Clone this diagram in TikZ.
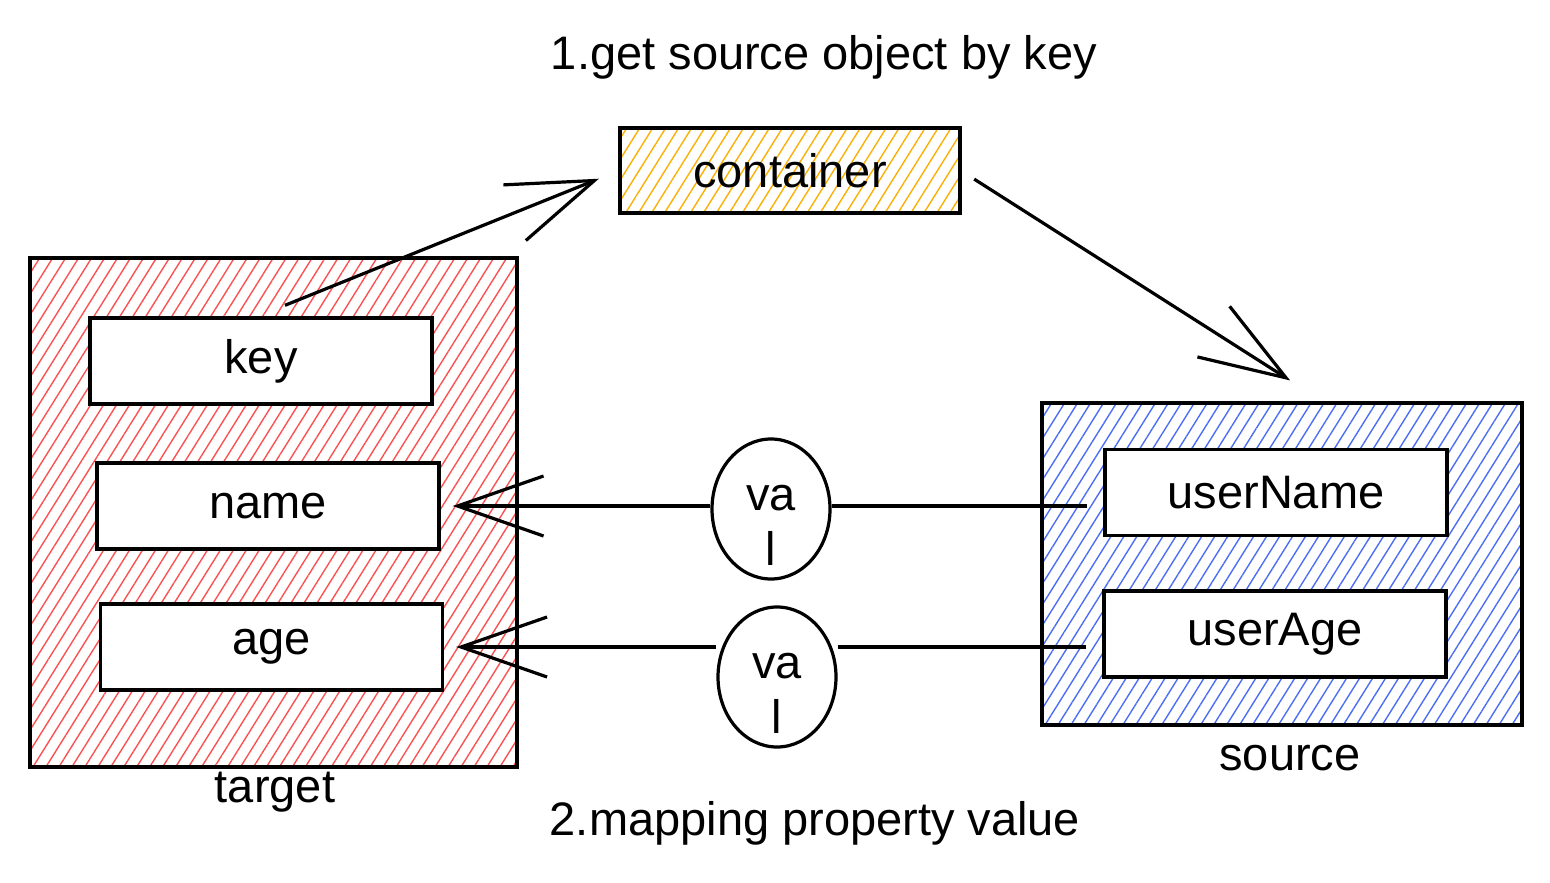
\documentclass[tikz,border=0pt]{standalone}
\usepackage{fontspec}
\setmainfont{Liberation Sans}
\definecolor{skred}{RGB}{250,82,82}
\definecolor{skblue}{RGB}{76,110,245}
\definecolor{skorange}{RGB}{250,176,5}
\newcommand{\skfont}{\fontsize{23.5}{27.5}\selectfont}
\newcommand{\dropline}[1]{\raisebox{-8pt}[\height][\depth]{#1}}
\usetikzlibrary{arrows.meta,positioning,shapes.geometric,patterns.meta}

\begin{document}
\begin{tikzpicture}[x=0.5pt,y=-0.5pt,every node/.style={font=\skfont},
  hatch/.style={draw,line width=1.8pt,pattern={Lines[angle=58,distance=5.5pt,line width=0.7pt]},pattern color=#1},
  field/.style={draw,fill=white,line width=1.7pt,minimum width=171pt,minimum height=43pt},
  valnode/.style={draw,ellipse,line width=1.6pt,minimum width=59pt,minimum height=70pt,inner sep=0pt,align=center},
  sketcharrow/.style={line width=1.6pt,-{Straight Barb[length=43pt,width=30pt,line width=1.6pt]}}]
  \useasboundingbox (0,0) rectangle (1550,882);
  % Titles
  \node (step1) at (824,57) {1.get source object by key};
  \node (step2) at (815,823) {2.mapping property value};
  % Container
  \node[hatch=skorange,minimum width=170pt,minimum height=42.5pt] (container) at (790,170.5) {container};
  % Target object
  \node[hatch=skred,minimum width=243.5pt,minimum height=254.5pt] (target) at (273.5,512.5) {};
  \node (targetlabel) at (275,792) {target};
  \node[field] (key) at (261,361) {key};
  \node[field] (name) at (268,506) {name};
  \node[field] (age) at (271.5,647) {age};
  % Source object
  \node[hatch=skblue,minimum width=240pt,minimum height=161pt] (source) at (1282,564) {};
  \node (sourcelabel) at (1290,758) {source};
  \node[field] (uname) at (1276,492.5) {userName};
  \node[field] (uage) at (1275,634) {userAge};
  % Values
  \node[valnode] (val1) at (771,509) {\dropline{va}\\\dropline{l}};
  \node[valnode] (val2) at (777,677) {\dropline{va}\\\dropline{l}};
  % Lookup arrows
  \draw[sketcharrow,shorten >=11pt] ([xshift=12pt,yshift=5.5pt]key.north) -- (container.west);
  \draw[sketcharrow,shorten <=8pt,shorten >=10pt] (container.east) -- ([xshift=12.5pt,yshift=5pt]source.north);
  % Property mapping
  \foreach \v/\f/\s in {val1/name/uname,val2/age/uage}{
    \draw[line width=1.6pt,shorten <=8pt] (\s.west |- \f) -- (\v.east |- \f);
    \draw[sketcharrow,shorten >=6pt] (\v.west |- \f) -- (\f.east);
  }
\end{tikzpicture}
\end{document}
